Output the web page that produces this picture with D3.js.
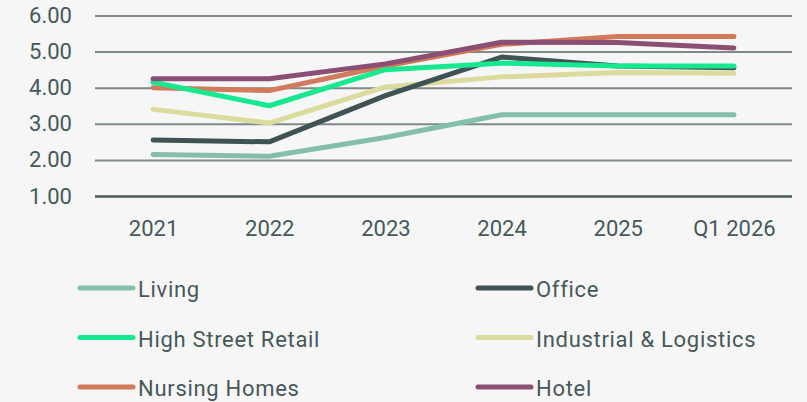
<!DOCTYPE html>
<html>
<head>
<meta charset="utf-8">
<script src="https://cdn.jsdelivr.net/npm/d3@7"></script>
<style>
  body { margin: 0; background: #f6f6f6; }
  svg { display: block; }
  text { font-family: Roboto, "Noto Sans", sans-serif; fill: #46585a; }
</style>
</head>
<body>
<svg id="chart" width="807" height="402"></svg>
<script>
const width = 807
const height = 402

// data
const periods = ["2021", "2022", "2023", "2024", "2025", "Q1 2026"]
const yTicks = [1, 2, 3, 4, 5, 6]

const living     = [2.15, 2.10, 2.62, 3.25, 3.25, 3.25]
const office     = [2.55, 2.50, 3.78, 4.85, 4.60, 4.55]
const retail     = [4.15, 3.50, 4.50, 4.68, 4.60, 4.60]
const industrial = [3.40, 3.02, 4.02, 4.30, 4.42, 4.40]
const nursing    = [4.00, 3.92, 4.60, 5.20, 5.42, 5.42]
const hotel      = [4.25, 4.25, 4.66, 5.26, 5.25, 5.10]

const series = [
  { name: "Living",                 values: living,     color: "#84bfae" },
  { name: "Office",                 values: office,     color: "#3f5354" },
  { name: "High Street Retail",     values: retail,     color: "#16e88f" },
  { name: "Industrial & Logistics", values: industrial, color: "#dcdb9e" },
  { name: "Nursing Homes",          values: nursing,    color: "#d27a5c" },
  { name: "Hotel",                  values: hotel,      color: "#8a4f72" }
]
// paint order, last on top
const drawOrder = ["Living", "Industrial & Logistics", "Nursing Homes", "Office", "High Street Retail", "Hotel"]

const margin = { top: 15.5, right: 15, bottom: 206, left: 95 }

const svg = d3.select("#chart")

const x = d3.scalePoint()
  .domain(periods)
  .range([margin.left, width - margin.right])
  .padding(0.5)

const y = d3.scaleLinear()
  .domain([1, 6])
  .range([height - margin.bottom, margin.top])

// gridlines + y labels
const yAxis = svg.append("g")
  .attr("transform", `translate(${margin.left},0)`)
  .call(d3.axisLeft(y)
    .tickValues(yTicks)
    .tickFormat(d3.format(".2f"))
    .tickSize(-(width - margin.left - margin.right))
    .tickPadding(23))
yAxis.select(".domain").remove()
yAxis.selectAll(".tick line")
  .attr("stroke", d => d === 1 ? "#4b5a5a" : "#7f8989")
  .attr("stroke-width", d => d === 1 ? 2.5 : 2)
yAxis.selectAll(".tick text")
  .attr("font-size", 22)
  .attr("fill", "#46585a")

// x labels
const xAxis = svg.append("g")
  .attr("transform", `translate(0,${y(1)})`)
  .call(d3.axisBottom(x).tickSize(0).tickPadding(24))
xAxis.select(".domain").remove()
xAxis.selectAll(".tick text")
  .attr("font-size", 22)
  .attr("fill", "#46585a")

const line = d3.line()
  .x((d, i) => x(periods[i]))
  .y(d => y(d))

svg.append("g")
  .selectAll("path")
  .data(drawOrder.map(n => series.find(s => s.name === n)))
  .join("path")
  .attr("d", d => line(d.values))
  .attr("fill", "none")
  .attr("stroke", d => d.color)
  .attr("stroke-width", 5)
  .attr("stroke-linecap", "round")
  .attr("stroke-linejoin", "round")

// legend, two columns
const legendCols = [80, 478]
const legendRowY = [288, 337.5, 387]
const legend = svg.append("g")
  .selectAll("g")
  .data(series)
  .join("g")
  .attr("transform", (d, i) => `translate(${legendCols[i % 2]},${legendRowY[Math.floor(i / 2)]})`)

legend.append("line")
  .attr("x1", 0).attr("x2", 53)
  .attr("stroke", d => d.color)
  .attr("stroke-width", 5)
  .attr("stroke-linecap", "round")

legend.append("text")
  .attr("x", 58)
  .attr("y", 9)
  .attr("font-size", 22)
  .attr("letter-spacing", 0.7)
  .text(d => d.name)
</script>
</body>
</html>
